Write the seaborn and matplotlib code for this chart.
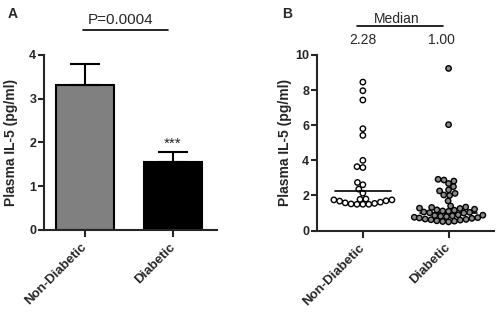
import matplotlib
matplotlib.use('Agg')
import matplotlib.pyplot as plt
import seaborn as sns
import numpy as np
import pandas as pd

# datos
grupos = ['Non-Diabetic', 'Diabetic']
medias = [3.31, 1.56]
sem = [0.48, 0.22]
coloresBarras = ['#808080', '#000000']

noDiabeticos = [8.45, 7.96, 7.43, 5.8, 5.42, 4.0, 3.64, 3.59, 2.74, 2.61, 2.36, 2.13,
                1.8, 1.75, 1.75, 1.7, 1.62, 1.55, 1.5, 1.5, 1.5, 1.52, 1.58, 1.68, 1.78]
diabeticos = [9.23, 6.03,
              2.92, 2.88, 2.82, 2.68, 2.5, 2.32, 2.26, 2.12, 2.03, 2.0, 1.69,
              1.4, 1.34, 1.28, 1.22, 1.16, 1.12, 1.06, 1.02, 1.0, 1.04, 1.1, 1.18, 1.26, 1.32,
              0.9, 0.86, 0.82, 0.76, 0.72, 0.66, 0.62, 0.56, 0.52, 0.5, 0.54, 0.6, 0.64,
              0.7, 0.74, 0.8, 0.84, 0.88]
medianas = [2.28, 1.00]

sns.set_style('ticks')
plt.rcParams['font.family'] = ['Liberation Sans', 'DejaVu Sans']

fig = plt.figure(figsize=(5, 3.19), dpi=100)
axA = fig.add_axes([0.088, 0.279, 0.346, 0.549])
axB = fig.add_axes([0.634, 0.277, 0.354, 0.551])

# Panel A: barras
sns.barplot(x=grupos, y=medias, hue=grupos, palette=coloresBarras, legend=False,
            edgecolor='black', linewidth=1.5, width=0.66, ax=axA)
axA.errorbar(range(len(grupos)), medias, yerr=[np.zeros(len(sem)), sem], fmt='none',
             ecolor='black', elinewidth=1.5, capsize=11, capthick=1.5, zorder=1)
axA.text(1, 1.82, '***', ha='center', va='bottom', fontsize=11)
axA.set_ylim(0, 4)
axA.set_yticks([0, 1, 2, 3, 4])
axA.set_xlim(-0.466, 1.5)
axA.plot([-0.02, 0.94], [4.57, 4.57], color='black', lw=1.2, clip_on=False)
axA.text(0.4, 4.8, 'P=0.0004', ha='center', va='center', fontsize=11)

# Panel B: dispersión
df = pd.DataFrame({
    'grupo': ['Non-Diabetic'] * len(noDiabeticos) + ['Diabetic'] * len(diabeticos),
    'valor': noDiabeticos + diabeticos,
})
sns.swarmplot(data=df, x='grupo', y='valor', hue='grupo',
              palette={'Non-Diabetic': 'white', 'Diabetic': '#8a8a8a'}, legend=False,
              size=3.05, edgecolor='black', linewidth=1.0, ax=axB, warn_thresh=1)
axB.set_ylim(0, 10)
axB.set_yticks([0, 2, 4, 6, 8, 10])
axB.set_xlim(-0.535, 1.53)

# el enjambre se calcula con puntos pequeños y luego se agrandan (se solapan como en Prism)
fig.canvas.draw()
for coll in axB.collections:
    if 'draw' in coll.__dict__:
        del coll.draw
    coll.set_sizes([3.9 ** 2])

for i, m in enumerate(medianas):
    axB.plot([i - 0.33, i + 0.33], [m, m], color='black', lw=1.2, zorder=0 if i else 3)
axB.plot([-0.07, 0.93], [11.65, 11.65], color='black', lw=1.2, clip_on=False)
axB.text(0.4, 12.05, 'Median', ha='center', va='center', fontsize=10)
axB.text(0.0, 10.85, f'{medianas[0]:.2f}', ha='center', va='center', fontsize=10)
axB.text(0.92, 10.85, f'{medianas[1]:.2f}', ha='center', va='center', fontsize=10)

for ax, xlab in [(axA, -0.15), (axB, -0.141)]:
    sns.despine(ax=ax)
    ax.spines['left'].set_linewidth(1.5)
    ax.spines['bottom'].set_linewidth(1.5)
    ax.tick_params(axis='both', width=1.5, length=4, labelsize=9, pad=1.5)
    ax.tick_params(axis='x', length=5, pad=6)
    ax.set_xlabel('')
    ax.set_ylabel('Plasma IL-5 (pg/ml)', fontsize=10, fontweight='bold')
    ax.yaxis.set_label_coords(xlab, 0.5)
    for t in ax.get_yticklabels():
        t.set_fontweight('bold')
    ax.set_xticks(range(len(grupos)))
    ax.set_xticklabels(grupos, rotation=45, ha='right', va='center',
                       rotation_mode='anchor', fontweight='bold', fontsize=9.5)

fig.text(0.016, 0.955, 'A', fontsize=10, fontweight='bold', va='center')
fig.text(0.564, 0.955, 'B', fontsize=10, fontweight='bold', va='center')

plt.savefig('out.png', dpi=100)
